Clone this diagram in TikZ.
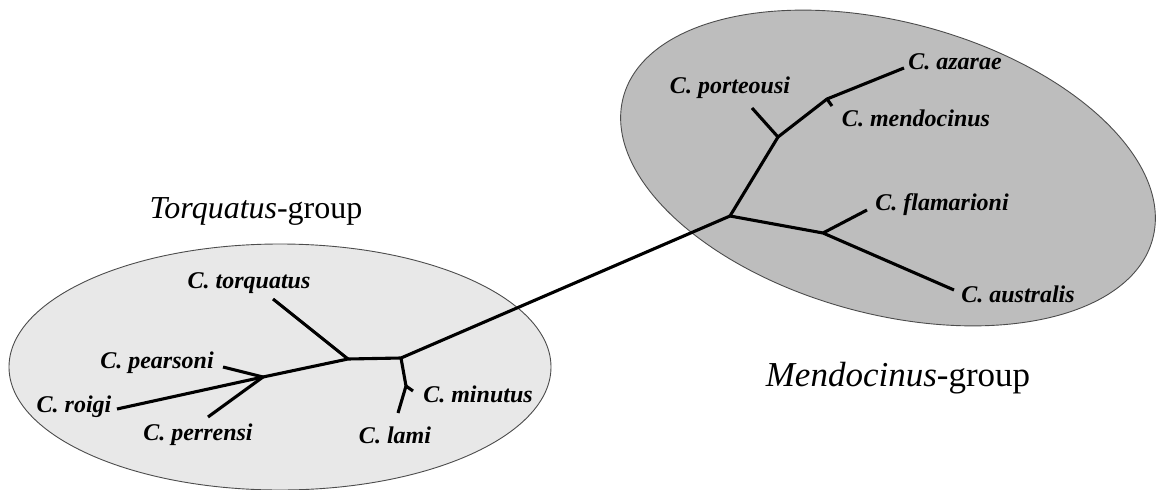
\documentclass[tikz,border=0pt]{standalone}
\usepackage{fontspec}
\setmainfont{Liberation Serif}
\begin{document}
\begin{tikzpicture}[x=1pt,y=-1pt,
  branch/.style={line width=3.1pt,line cap=butt,line join=miter},
  species/.style={inner sep=0pt,font=\fontsize{24}{26}\selectfont\bfseries\itshape},
  grouplabel/.style={inner sep=0pt},
  cladeA/.style={draw=black!70,line width=0.9pt,fill=black!9},
  cladeB/.style={draw=black!70,line width=0.9pt,fill=black!26}]
\useasboundingbox (0,0) rectangle (1160,490);

% group outlines
\filldraw[cladeA] (280,367) ellipse [x radius=271pt, y radius=123pt];
\filldraw[cladeB,rotate around={-15:(888,168)}] (888,168) ellipse [x radius=274pt, y radius=146pt];

% internal nodes and tips
\coordinate (rg) at (117,409);
\coordinate (P)  at (263,377);
\coordinate (pe) at (223,367);
\coordinate (pr) at (208,417);
\coordinate (A)  at (348,359);
\coordinate (tq) at (273,299);
\coordinate (B)  at (401,358);
\coordinate (M)  at (406,386);
\coordinate (la) at (398,413);
\coordinate (mi) at (413,391);
\coordinate (R)  at (730,216);
\coordinate (S)  at (778,137);
\coordinate (po) at (752,108);
\coordinate (T)  at (827,99);
\coordinate (me) at (832,106);
\coordinate (az) at (904,68);
\coordinate (U)  at (823,233);
\coordinate (fl) at (867,210);
\coordinate (au) at (954,290);

% branches
\draw[branch] (rg) -- (P) -- (A) -- (B) -- (R);
\draw[branch] (pe) -- (P) -- (pr);
\draw[branch] (A) -- (tq);
\draw[branch] (B) -- (M) -- (la);
\draw[branch] (M) -- (mi);
\draw[branch] (R) -- (S) -- (T) -- (az);
\draw[branch] (S) -- (po);
\draw[branch] (T) -- (me);
\draw[branch] (R) -- (U) -- (au);
\draw[branch] (U) -- (fl);

% species names
\node[species] (Ltq) at (249,283) {C. torquatus};
\node[species] (Lpe) at (157,363) {C. pearsoni};
\node[species] (Lrg) at (74,407) {C. roigi};
\node[species] (Lpr) at (198,435) {C. perrensi};
\node[species] (Lla) at (395,435) {C. lami};
\node[species] (Lmi) at (478,394) {C. minutus};
\node[species] (Laz) at (955,62) {C. azarae};
\node[species] (Lpo) at (730,88) {C. porteousi};
\node[species] (Lme) at (916,118) {C. mendocinus};
\node[species] (Lfl) at (942,205) {C. flamarioni};
\node[species] (Lau) at (1018,294) {C. australis};

% group names
\node[grouplabel,font=\fontsize{32}{35}\selectfont] (gT) at (256,211) {\textit{Torquatus}-group};
\node[grouplabel,font=\fontsize{35}{38}\selectfont] (gM) at (898,378) {\textit{Mendocinus}-group};
\end{tikzpicture}
\end{document}
